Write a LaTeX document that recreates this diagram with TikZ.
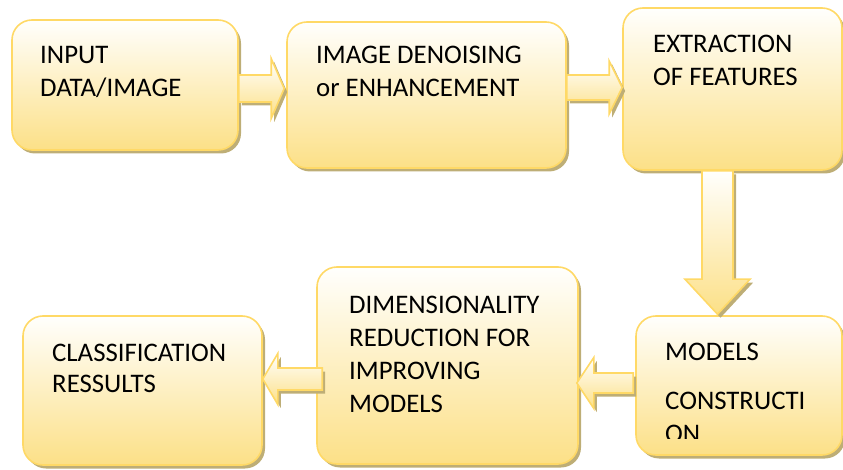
\documentclass[tikz,border=0pt]{standalone}
\usepackage{fontspec}
\setmainfont{Carlito}
\usetikzlibrary{calc,shadows}

\definecolor{edgegold}{RGB}{255,217,102}
\definecolor{fillhi}{RGB}{255,255,253}
\definecolor{fillmid}{RGB}{255,245,214}
\definecolor{filllo}{RGB}{252,224,135}
\definecolor{shadowtan}{RGB}{190,174,118}

\tikzset{
  tanshadow/.style={drop shadow={shadow xshift=3pt, shadow yshift=-3.5pt, fill=shadowtan, opacity=1}},
  stage/.style={rectangle, rounded corners=20pt, draw=edgegold, line width=1.6pt,
    top color=fillhi, middle color=fillmid, bottom color=filllo, inner sep=0pt, tanshadow},
  flow/.style={draw=edgegold, line width=1.6pt, line join=miter,
    top color=fillhi, middle color=fillmid, bottom color=filllo, tanshadow},
  caption/.style={anchor=base west, inner sep=0pt, font=\fontsize{26.8}{33}\selectfont}
}

% horizontal block arrow: #1 tail, #2 tip, #3 shaft half width, #4 head half width, #5 head length (negative points left)
\newcommand\hblock[5]{%
  \path[flow] ($(#1)+(0,-#3)$) -- ($(#2)+({-(#5)},-#3)$) -- ($(#2)+({-(#5)},-#4)$) -- (#2)
    -- ($(#2)+({-(#5)},#4)$) -- ($(#2)+({-(#5)},#3)$) -- ($(#1)+(0,#3)$) -- cycle;}
% downward block arrow: #1 tail, #2 tip, #3 shaft half width, #4 head half width, #5 head length
\newcommand\vblock[5]{%
  \path[flow] ($(#1)+(-#3,0)$) -- ($(#2)+(-#3,-#5)$) -- ($(#2)+(-#4,-#5)$) -- (#2)
    -- ($(#2)+(#4,-#5)$) -- ($(#2)+(#3,-#5)$) -- ($(#1)+(#3,0)$) -- cycle;}

\begin{document}
\begin{tikzpicture}[x=1pt, y=-1pt]
  \useasboundingbox (0,0) rectangle (843,470);

  % process stages
  \node[stage, minimum width=226pt, minimum height=130pt] (b1) at (125,85) {};
  \node[stage, minimum width=279pt, minimum height=146pt] (b2) at (426.5,95) {};
  \node[stage, minimum width=219pt, minimum height=162pt] (b3) at (732.5,89) {};
  \node[stage, minimum width=206pt, minimum height=139pt] (b4) at (739,385.5) {};
  \node[stage, minimum width=261pt, minimum height=197pt] (b5) at (447.5,365.5) {};
  \node[stage, minimum width=239pt, minimum height=149pt] (b6) at (142.5,390.5) {};

  % arrow end points
  \coordinate (a12s) at (b1.east |- 0,88.5);
  \coordinate (a12t) at ($(b2.west |- 0,88.5)+(-2,0)$);
  \coordinate (a23s) at (b2.east |- 0,87.5);
  \coordinate (a23t) at (b3.west |- 0,87.5);
  \coordinate (a34s) at (b3.south -| 717.5,0);
  \coordinate (a34t) at ($(b4.north -| 717.5,0)+(0,-1)$);
  \coordinate (a45s) at ($(b4.west |- 0,383)+(-2,0)$);
  \coordinate (a45t) at ($(b5.east |- 0,383)+(-2,0)$);
  \coordinate (a56s) at ($(b5.west |- 0,379)+(6,0)$);
  \coordinate (a56t) at (b6.east |- 0,379);

  % connecting block arrows
  \hblock{a12s}{a12t}{13.5}{30}{13}
  \hblock{a23s}{a23t}{12.5}{26.5}{13}
  \vblock{a34s}{a34t}{15.5}{32.5}{35}
  \hblock{a45s}{a45t}{10}{25.5}{-17}
  \hblock{a56s}{a56t}{11}{25.5}{-15}

  % stage captions
  \node[caption] (t1a) at (40,64) {INPUT};
  \node[caption] (t1b) at (40,97) {DATA/IMAGE};
  \node[caption] (t2a) at (316,64) {IMAGE DENOISING};
  \node[caption] (t2b) at (316,97) {or ENHANCEMENT};
  \node[caption] (t3a) at (653,53) {EXTRACTION};
  \node[caption] (t3b) at (653,86) {OF FEATURES};
  \node[caption] (t4a) at (665,360) {MODELS};
  \node[caption] (t4b) at (665,409) {CONSTRUCTI};
  \begin{scope}
    \clip (640,420) rectangle (840,438);
    \node[caption] (t4c) at (665,442) {ON};
  \end{scope}
  \node[caption] (t5a) at (349,313) {DIMENSIONALITY};
  \node[caption] (t5b) at (349,346) {REDUCTION FOR};
  \node[caption] (t5c) at (349,379) {IMPROVING};
  \node[caption] (t5d) at (349,412) {MODELS};
  \node[caption] (t6a) at (52,361) {CLASSIFICATION};
  \node[caption] (t6b) at (52,392) {RESSULTS};
\end{tikzpicture}
\end{document}
